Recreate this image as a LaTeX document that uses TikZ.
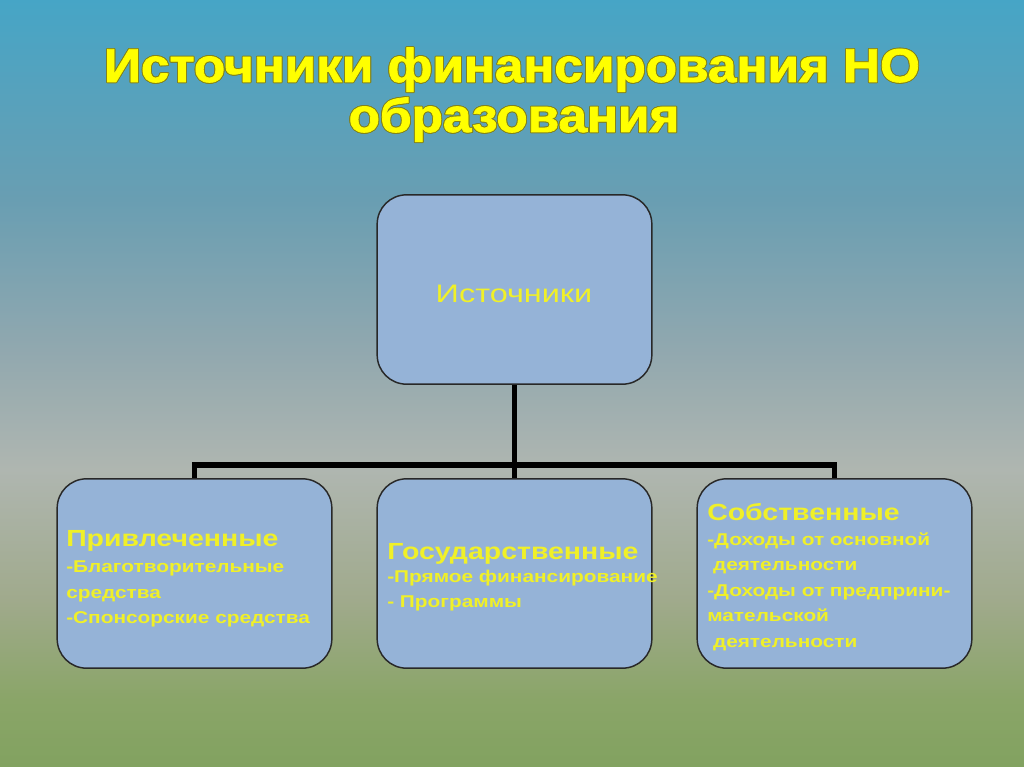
\documentclass[tikz,border=0pt]{standalone}
\usepackage{fontspec}
\setmainfont{Liberation Sans}
\newfontfamily\titlefont{Liberation Sans}[BoldFeatures={FakeBold=1.5}]
\usepackage{contour}
\contourlength{0.6pt}
\definecolor{bg0}{RGB}{130,162,96}
\definecolor{bg1}{RGB}{138,165,104}
\definecolor{bg2}{RGB}{160,170,140}
\definecolor{bg3}{RGB}{175,182,176}
\definecolor{bg4}{RGB}{145,168,175}
\definecolor{bg5}{RGB}{105,158,178}
\definecolor{bg6}{RGB}{70,165,198}
\definecolor{boxfill}{RGB}{149,179,215}
\definecolor{boxline}{RGB}{40,40,40}
\definecolor{ytext}{RGB}{240,240,40}
\definecolor{ytitle}{RGB}{255,255,0}
\definecolor{youtline}{RGB}{130,130,30}
\pgfdeclareverticalshading{bgshade}{100bp}{color(0bp)=(bg0); color(25bp)=(bg0); color(29.4bp)=(bg1); color(35.9bp)=(bg2); color(44.4bp)=(bg3); color(52.2bp)=(bg4); color(62bp)=(bg5); color(75bp)=(bg6); color(100bp)=(bg6)}
\newcommand{\btxt}[3]{\scalebox{1.22}[1]{\parbox[t]{210pt}{\raggedright\bfseries\fontsize{12.8}{19.1}\selectfont{\fontsize{17.5}{20}\selectfont #1}\\[#2] #3}}}
\newcommand{\ttl}[1]{\scalebox{1.08}[1]{\titlefont\bfseries\fontsize{35.6}{40}\selectfont\contour{youtline}{\textcolor{ytitle}{#1}}}}
\tikzset{
  box/.style={draw=boxline, line width=1.1pt, fill=boxfill, rounded corners=22pt, minimum width=206pt, minimum height=142pt, inner sep=0pt},
  conn/.style={line width=3.8pt, black},
  boxtext/.style={text=ytext, inner sep=0pt, anchor=base west},
  titletext/.style={inner sep=0pt, anchor=base}
}
\begin{document}
\begin{tikzpicture}[x=0.75pt,y=-0.75pt]
\useasboundingbox (0,0) rectangle (1024,767);
\shade[shading=bgshade] (0,0) rectangle (1024,767);
% title
\node[titletext] (title1) at (512,82) {\ttl{Источники финансирования НО}};
\node[titletext] (title2) at (514,132) {\ttl{образования}};
% boxes
\node[box] (root) at (514.5,289.5) {};
\node[box] (left) at (194.5,573.5) {};
\node[box] (mid) at (514.5,573.5) {};
\node[box] (right) at (834.5,573.5) {};
% texts
\node[text=ytext, inner sep=0pt, anchor=base] (roottxt) at (514,302) {\scalebox{1.28}[1]{\fontsize{19}{22}\selectfont Источники}};
\node[boxtext] (lefttxt) at (66,546) {\btxt{Привлеченные}{1pt}{-Благотворительные\\ средства\\ -Спонсорские средства}};
\node[boxtext] (midtxt) at (387,559) {\btxt{Государственные}{-1.5pt}{-Прямое финансирование\\ - Программы}};
\node[boxtext] (righttxt) at (707,520) {\btxt{Собственные}{0pt}{-Доходы от основной\\ \ деятельности\\ -Доходы от предприни-\\ мательской\\ \ деятельности}};
% connectors
\coordinate (bus) at (514.5,465);
\draw[conn] (root.south) -- (bus);
\draw[conn] ([xshift=-1.9pt]left.north |- bus) -- ([xshift=1.9pt]right.north |- bus);
\draw[conn] (left.north |- bus) -- (left.north);
\draw[conn] (mid.north |- bus) -- (mid.north);
\draw[conn] (right.north |- bus) -- (right.north);
\end{tikzpicture}
\end{document}
